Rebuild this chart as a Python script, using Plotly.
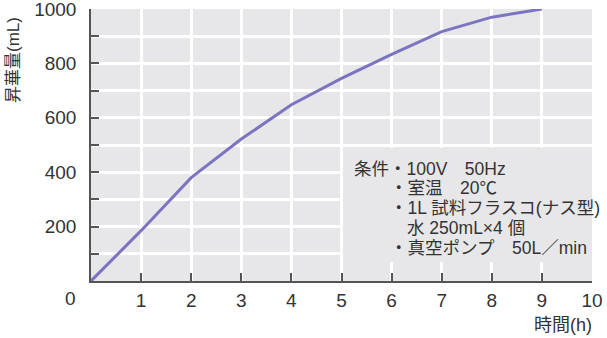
import plotly.graph_objects as go

# ---- data ----
hours = [0, 1, 2, 3, 4, 5, 6, 7, 8, 9]
sublimation_ml = [0, 185, 380, 522, 648, 745, 833, 917, 970, 1000]

x_tickvals = [1, 2, 3, 4, 5, 6, 7, 8, 9, 10]
x_ticktext = ["1", "2", "3", "4", "5", "6", "7", "8", "9", "10"]
y_tickvals = [100, 200, 300, 400, 500, 600, 700, 800, 900, 1000]
y_ticktext = ["", "200", "", "400", "", "600", "", "800", "", "1000"]

condition_lines = [
    "条件・100V　50Hz",
    "・室温　20℃",
    "・1L 試料フラスコ(ナス型)",
    "水 250mL×4 個",
    "・真空ポンプ　50L／min",
]

FONT = "Liberation Sans, Arial, Noto Sans CJK JP, sans-serif"
BG = "#e7e7e9"
AXIS = "#555555"
TXT = "#333333"

fig = go.Figure()
fig.add_trace(go.Scatter(
    x=hours, y=sublimation_ml, mode="lines",
    line=dict(color="#7b74c0", width=3),
    hoverinfo="skip", showlegend=False,
))

fig.update_layout(
    width=607, height=338,
    margin=dict(l=91, r=15, t=9, b=57, autoexpand=False),
    paper_bgcolor="white", plot_bgcolor=BG,
    font=dict(family=FONT, size=18, color=TXT),
    showlegend=False,
)

fig.update_xaxes(
    range=[0, 10], tickvals=x_tickvals, ticktext=x_ticktext,
    ticks="inside", ticklen=8, tickwidth=1.5, tickcolor=AXIS,
    showline=True, linecolor=AXIS, linewidth=1.5,
    showgrid=True, gridcolor="white", gridwidth=2.5,
    zeroline=False, ticklabelstandoff=1, ticklabeloverflow="allow",
    automargin=False,
    tickfont=dict(size=19, color=TXT),
)
fig.update_yaxes(
    range=[0, 1000], tickvals=y_tickvals, ticktext=y_ticktext,
    ticks="inside", ticklen=8, tickwidth=1.5, tickcolor=AXIS,
    showline=True, linecolor=AXIS, linewidth=1.5,
    showgrid=True, gridcolor="white", gridwidth=2.5,
    zeroline=False, ticklabelstandoff=9, ticklabeloverflow="allow",
    automargin=False,
    tickfont=dict(size=19, color=TXT),
)

# condition box hiding the grid
fig.add_shape(type="rect", xref="x", yref="y", x0=5.03, x1=10, y0=70, y1=490,
              fillcolor=BG, line=dict(width=0), layer="between")

# shared origin label
fig.add_annotation(x=0, y=0, xref="x", yref="y", text="0", showarrow=False,
                   xshift=-21, yshift=-17, font=dict(size=19, color=TXT))

# axis titles
fig.add_annotation(xref="paper", yref="paper", x=0, xshift=-78, y=1.0, yshift=-6,
                   text="昇華量(mL)", textangle=-90, showarrow=False,
                   xanchor="center", yanchor="top",
                   font=dict(size=17, color=TXT))
fig.add_annotation(xref="paper", yref="paper", x=1.0, xshift=2, y=0, yshift=-44,
                   text="時間(h)", showarrow=False, xanchor="right", yanchor="middle",
                   font=dict(size=18, color=TXT))

# conditions text
line_x = [5.2, 5.92, 5.92, 6.26, 5.92]
line_y = [410, 342, 268, 195, 122]
for t, lx, ly in zip(condition_lines, line_x, line_y):
    fig.add_annotation(x=lx, y=ly, xref="x", yref="y", text=t, showarrow=False,
                       xanchor="left", yanchor="middle",
                       font=dict(size=17.5, color=TXT))

fig.write_html("out.html")
